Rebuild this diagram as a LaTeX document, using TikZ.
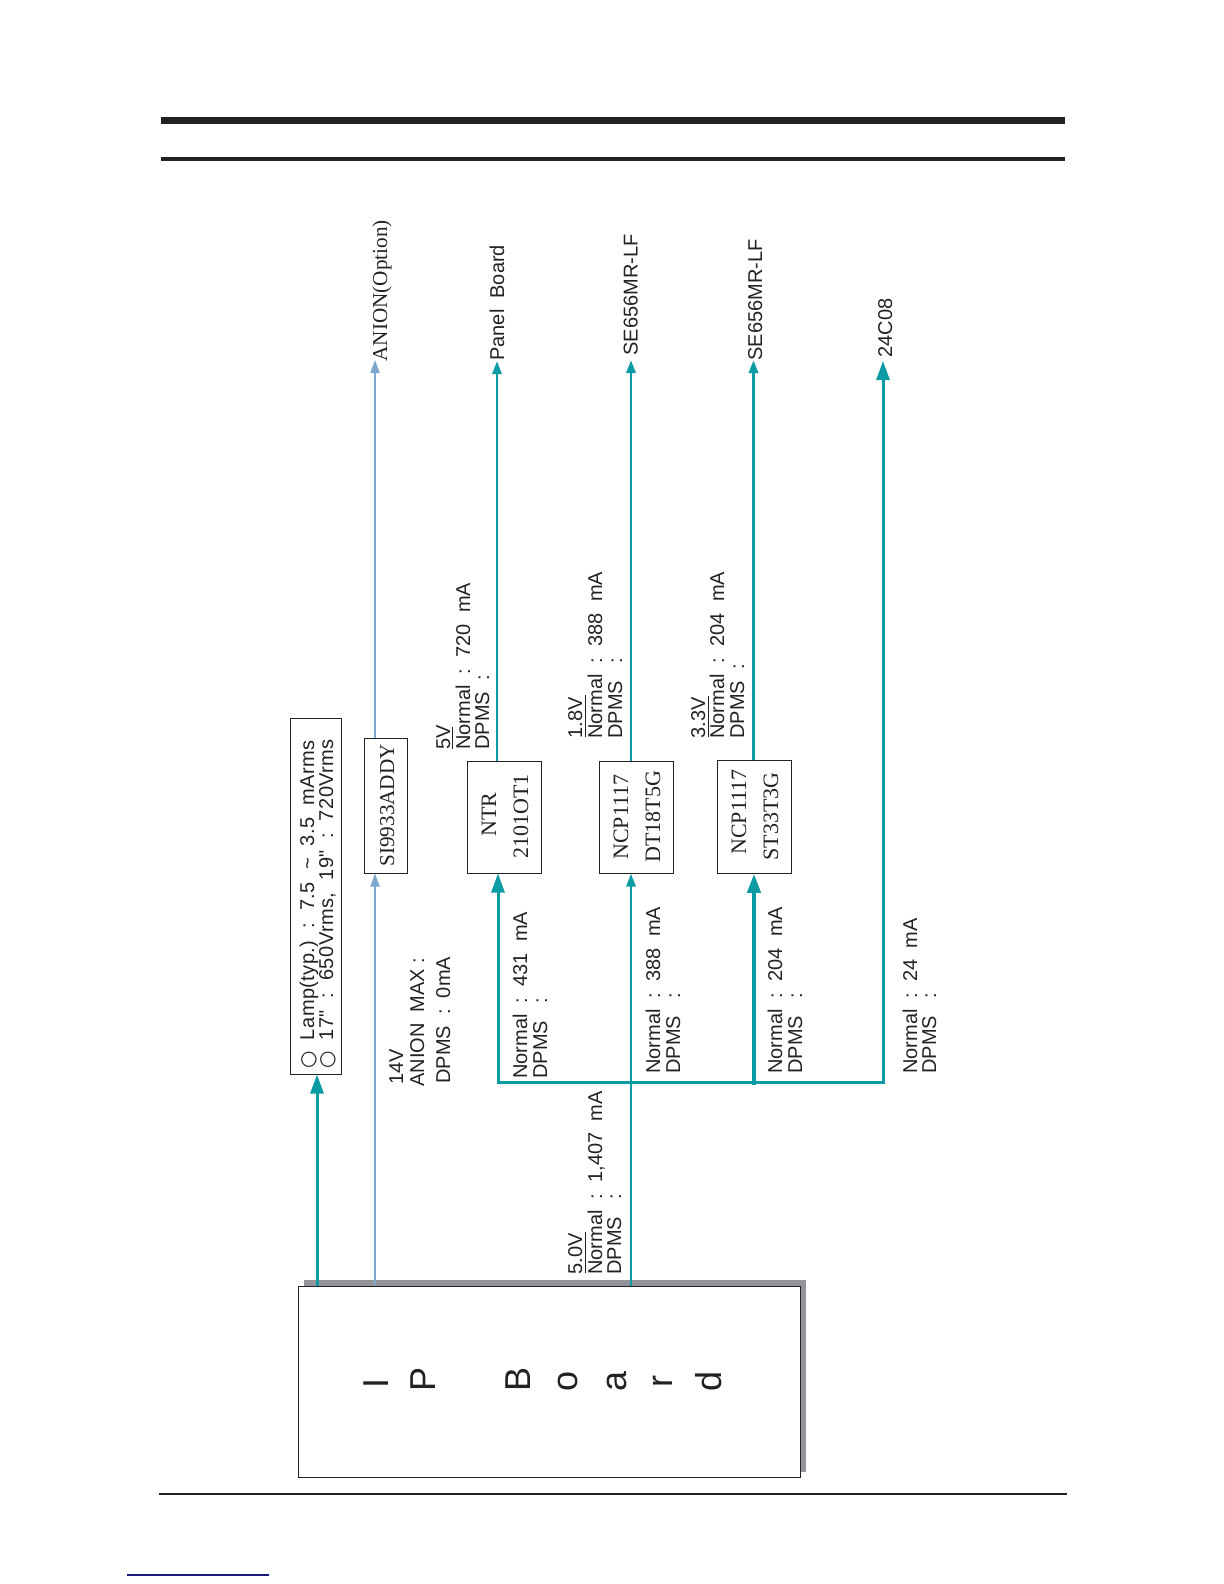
\documentclass[tikz,border=0pt]{standalone}
\usepackage{fontspec}
\setmainfont{Liberation Sans}
\newfontfamily\serifx{Liberation Serif}
\newfontfamily\symx{DejaVu Sans}
\newfontfamily\plainx{Liberation Sans}
\usetikzlibrary{arrows.meta}
\definecolor{teal1}{HTML}{0A9BA5}
\definecolor{blue1}{HTML}{7DA7CF}
\definecolor{ink}{HTML}{222222}
\definecolor{shadowgrey}{HTML}{939598}
\definecolor{navy1}{HTML}{1B1B7E}
\tikzset{
  boxn/.style={draw=ink,line width=0.5pt,fill=white,inner sep=0pt},
  vtext/.style={rotate=90,anchor=base west,inner sep=0pt,text=ink,font=\fontsize{10}{12}\selectfont},
  sertext/.style={vtext,font=\serifx\fontsize{11}{13}\selectfont},
  sersmall/.style={vtext,font=\serifx\fontsize{10.6}{13}\selectfont},
  boardl/.style={vtext,font=\fontsize{18}{20}\selectfont},
  bigtip/.style={-{Triangle[width=6.5pt,length=9.5pt]}},
  smalltip/.style={-{Triangle[width=4.5pt,length=6.5pt]}},
  wire/.style={draw=teal1,line width=1.4pt,line join=miter},
  wireb/.style={draw=blue1,line width=1pt},
  ulrule/.style={draw=ink,line width=0.5pt}
}
\newcommand{\vtxt}[5][vtext]{\node[#1] (#2) at (#3,#4) {#5};}
\newcommand{\ds}{\ \ }
\newcommand{\nrm}{Normal\ds:\ds}
\newcommand{\dpa}{DPMS\hspace{8.9pt}:}
\newcommand{\dpb}{DPMS\ \ :}
\newcommand{\lsp}{\addfontfeature{LetterSpace=2.3}}
\newcommand{\inch}{{\plainx "}}
\begin{document}
\begin{tikzpicture}[x=0.5pt,y=-0.5pt]
\useasboundingbox (0,0) rectangle (1224,1584);
% header and footer rules
\fill[ink] (161,117) rectangle (1065,124);
\fill[ink] (161,157) rectangle (1065,161);
\fill[ink] (159,1493) rectangle (1067,1495);
\fill[navy1] (127,1574) rectangle (269,1575.5);
% board
\fill[shadowgrey] (304,1280) rectangle (806,1472);
\node[boxn,minimum width=251pt,minimum height=95.5pt] (ip) at (549,1381.5) {};
% boxes
\node[boxn,minimum width=25.5pt,minimum height=178pt] (lamp) at (316,896) {};
\node[boxn,minimum width=21.5pt,minimum height=67.5pt] (si) at (386,805.5) {};
\node[boxn,minimum width=37pt,minimum height=56pt] (ntr) at (504.5,817) {};
\node[boxn,minimum width=37pt,minimum height=56pt] (ncpa) at (636,817) {};
\node[boxn,minimum width=37pt,minimum height=56.25pt] (ncpb) at (754.5,817) {};
% named ends
\coordinate (xlamp) at (317,0);
\coordinate (xanion) at (375,0);
\coordinate (xntrin) at (498,0);
\coordinate (xntrout) at (497,0);
\coordinate (xmain) at (631,0);
\coordinate (xcpin) at (754,0);
\coordinate (xcpout) at (753.5,0);
\coordinate (xeep) at (883,0);
\coordinate (ybus) at (0,1082);
\coordinate (ybusend) at (0,1085);
\coordinate (tanion) at (375,360);
\coordinate (tpanel) at (497,361);
\coordinate (tsea) at (631,360);
\coordinate (tseb) at (753.5,360);
\coordinate (teep) at (883,361);
% connectors
\draw[wire,line width=1.5pt,bigtip] (ip.north -| xlamp) -- (lamp.south -| xlamp);
\draw[wireb,smalltip] (ip.north -| xanion) -- (si.south -| xanion);
\draw[wireb,smalltip] (si.north -| xanion) -- (tanion);
\draw[wire,line width=1.5pt,bigtip] (teep |- ybus) -- (xntrin |- ybus) -- (ntr.south -| xntrin);
\draw[wire,line width=1.5pt,bigtip] (xntrin |- ybus) -- (teep |- ybus) -- (teep);
\draw[wire,line width=1.4pt,smalltip] (ip.north -| xmain) -- (ncpa.south -| xmain);
\draw[wire,line width=2pt,bigtip] (xcpin |- ybusend) -- (ncpb.south -| xcpin);
\draw[wire,line width=1.4pt,smalltip] (ntr.north -| xntrout) -- (tpanel);
\draw[wire,line width=1.4pt,smalltip] (ncpa.north -| xmain) -- (tsea);
\draw[wire,line width=1.6pt,smalltip] (ncpb.north -| xcpout) -- (tseb);
% top labels
\vtxt[sersmall]{tan}{387}{362}{ANION(Option)}
\vtxt{tpa}{504}{361}{Panel\ \ Board}
\vtxt{tsa}{637.5}{356}{SE656MR-LF}
\vtxt{tsb}{762}{361}{SE656MR-LF}
\vtxt{tee}{892}{358}{24C08}
% lamp
\vtxt{la}{314}{1069}{{\symx ○}\ \ \lsp Lamp(typ.)\ds:\ds7.5\ds\textasciitilde\ds3.5\ds mArms}
\vtxt{lb}{333}{1069}{{\symx ○}\ \ \lsp 17\inch\ds:\ds650Vrms,\ds19\inch\ds:\ds720Vrms}
% box labels
\vtxt[sersmall]{sit}{394}{867}{SI9933ADDY}
\vtxt[sertext]{nta}{496}{837}{NTR}
\vtxt[sertext]{ntb}{528}{859}{2101OT1}
\vtxt[sertext]{caa}{628}{860}{NCP1117}
\vtxt[sertext]{cab}{660}{863}{DT18T5G}
\vtxt[sertext]{cba}{746}{855}{NCP1117}
\vtxt[sertext]{cbb}{778}{861}{ST33T3G}
% output currents
\vtxt{va}{450}{750}{5V}
\draw[ulrule] (452,749) coordinate (ra) -- (452,727) coordinate (rb);
\vtxt{vb}{470}{750}{\nrm720\ds mA}
\vtxt{vc}{489}{750}{\dpb}
\vtxt{wa}{582}{739}{1.8V}
\draw[ulrule] (585,737) coordinate (rc) -- (585,695) coordinate (rd);
\vtxt{wb}{602}{739}{\nrm388\ds mA}
\vtxt{wc}{622}{739}{\dpa}
\vtxt{xa}{705}{739}{3.3V}
\draw[ulrule] (708,737) coordinate (re) -- (708,696) coordinate (rf);
\vtxt{xb}{724}{739}{\nrm204\ds mA}
\vtxt{xc}{744}{739}{\dpb}
% input currents
\vtxt{aa}{403}{1085}{14V}
\vtxt{ab}{424}{1087}{ANION\ds MAX\ :}
\vtxt{ac}{450}{1084}{DPMS\ds:\ds0mA}
\vtxt{ba}{527}{1079}{\nrm431\ds mA}
\vtxt{bb}{547}{1079}{\dpa}
\vtxt{ca}{660}{1074}{\nrm388\ds mA}
\vtxt{cb}{680}{1074}{\dpa}
\vtxt{da}{782}{1074}{\nrm204\ds mA}
\vtxt{db}{802}{1074}{\dpa}
\vtxt{ea}{917}{1074}{\nrm24\ds mA}
\vtxt{eb}{936}{1074}{\dpa}
\vtxt{fa}{582}{1275}{5.0V}
\draw[ulrule] (585,1273) coordinate (rg) -- (585,1232) coordinate (rh);
\vtxt{fb}{602}{1275}{\nrm1,407\ds mA}
\vtxt{fc}{621}{1275}{\dpa}
% board letters
\vtxt[boardl]{b1}{388}{1389}{I}
\vtxt[boardl]{b2}{435}{1392}{P}
\vtxt[boardl]{b3}{530}{1392}{B}
\vtxt[boardl]{b4}{577}{1392}{o}
\vtxt[boardl]{b5}{626}{1392}{a}
\vtxt[boardl]{b6}{672}{1388}{r}
\vtxt[boardl]{b7}{721}{1392}{d}
\end{tikzpicture}
\end{document}
